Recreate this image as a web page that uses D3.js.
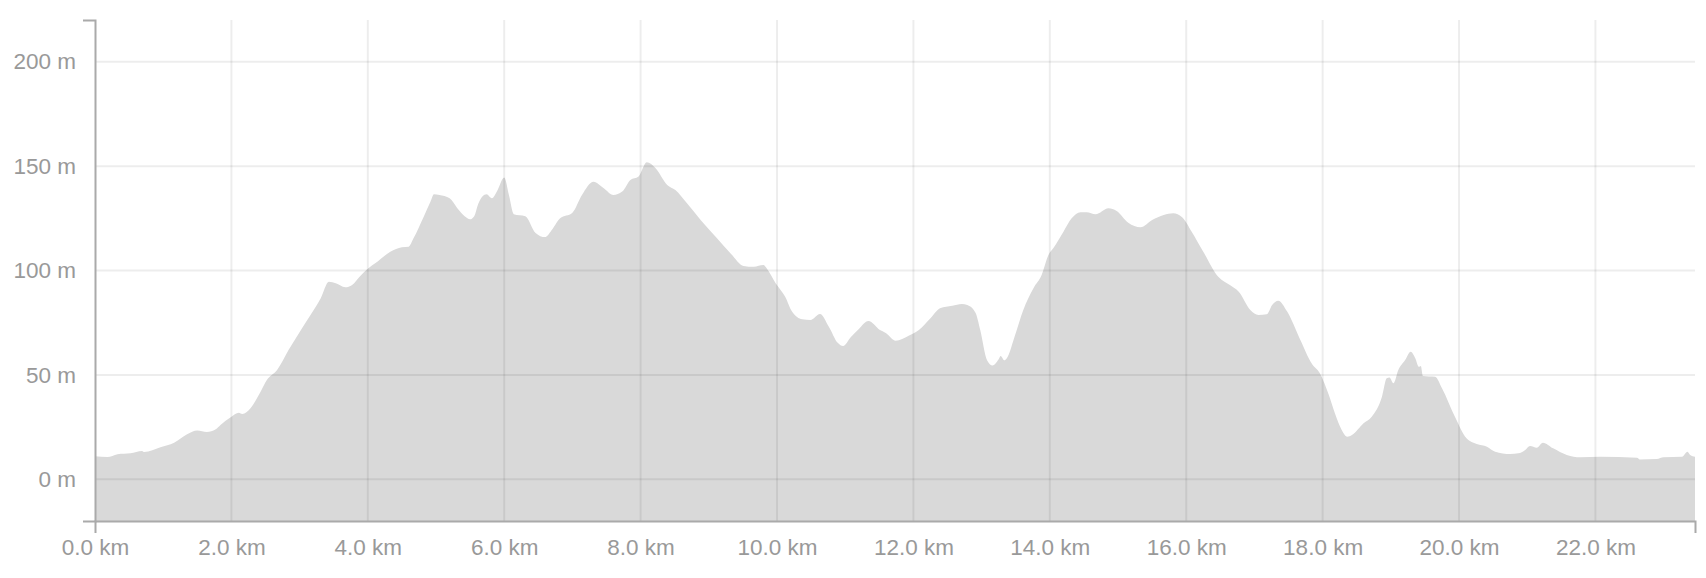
<!DOCTYPE html>
<html>
<head>
<meta charset="utf-8">
<script src="https://cdn.jsdelivr.net/npm/d3@7"></script>
<style>
  html, body { margin: 0; padding: 0; background: #fff; }
  svg { display: block; }
  text { font-family: "Liberation Sans", Arial, Helvetica, sans-serif; }
</style>
</head>
<body>
<svg id="chart" width="1706" height="578"></svg>
<script>
// Distance along the route (km)
const distances = [
  0.00, 0.18, 0.33, 0.52, 0.69, 0.72, 0.96, 1.16, 1.35, 1.50, 1.64, 1.77, 1.84, 1.99,
  2.11, 2.16, 2.28, 2.43, 2.52, 2.67, 2.84, 2.99, 3.16, 3.31, 3.43, 3.53, 3.67, 3.77,
  3.89, 3.99, 4.14, 4.33, 4.50, 4.60, 4.67, 4.82, 4.92, 4.97, 5.05, 5.20, 5.31, 5.42,
  5.50, 5.56, 5.62, 5.68, 5.74, 5.82, 5.90, 6.00, 6.07, 6.14, 6.31, 6.46, 6.60, 6.68,
  6.82, 7.00, 7.14, 7.31, 7.46, 7.60, 7.73, 7.85, 7.97, 8.09, 8.22, 8.39, 8.51, 8.68,
  8.88, 9.12, 9.32, 9.51, 9.66, 9.80, 9.85, 9.98, 10.12, 10.22, 10.37, 10.49, 10.63,
  10.76, 10.89, 10.97, 11.08, 11.20, 11.34, 11.51, 11.60, 11.74, 11.93, 12.08, 12.25,
  12.39, 12.57, 12.71, 12.79, 12.91, 12.98, 13.08, 13.16, 13.25, 13.28, 13.33, 13.37,
  13.49, 13.61, 13.76, 13.88, 13.98, 14.05, 14.20, 14.32, 14.45, 14.54, 14.67, 14.86,
  14.98, 15.15, 15.33, 15.50, 15.67, 15.81, 15.94, 16.08, 16.25, 16.47, 16.64, 16.77,
  16.94, 17.06, 17.18, 17.26, 17.35, 17.48, 17.67, 17.84, 17.96, 18.09, 18.18, 18.28,
  18.36, 18.43, 18.60, 18.72, 18.87, 18.94, 18.98, 19.04, 19.11, 19.21, 19.29, 19.36,
  19.41, 19.44, 19.47, 19.65, 19.75, 19.94, 20.11, 20.26, 20.41, 20.53, 20.75, 20.87,
  20.97, 21.04, 21.14, 21.23, 21.38, 21.58, 21.78, 22.07, 22.61, 22.65, 22.90, 23.00,
  23.27, 23.35, 23.39, 23.46
];
// Elevation (m)
const elevations = [
  11, 10.6, 12, 12.4, 13.5, 13.0, 15.3, 17.5, 21.5, 23.3, 22.6, 23.9, 26, 29.7,
  31.8, 31.2, 34, 42, 47.5, 52.3, 62, 70, 78.7, 86.7, 94.6, 93.9, 92, 93.1,
  97.4, 100.6, 104.2, 109, 111.1, 111.4, 115.4, 125.8, 133, 136.5, 136.2, 134.6, 130, 126,
  124.5, 126, 132, 135.5, 136.5, 134.6, 138.3, 144.5, 136, 127, 126, 118, 116, 118.6,
  125, 127.7, 136.2, 142.5, 139.4, 136.2, 137.8, 143.4, 145, 151.8, 149, 141, 138.6, 132.2,
  124.2, 115.4, 108.2, 102.2, 101.8, 102.6, 101, 93.9, 87.4, 80.3, 76.6, 76.3, 79.2,
  73.1, 65.4, 63.8, 68, 72, 75.8, 71.5, 70, 66.4, 68.8, 71.5, 77.1,
  81.9, 83.1, 84, 83.5, 79.8, 71.5, 57, 54.5, 57.5, 59, 57, 58,
  69, 81, 91.5, 97.8, 107.4, 110.6, 118.6, 125, 127.9, 127.9, 126.9, 129.8,
  128.5, 122.9, 120.7, 124.2, 126.6, 127.4, 125.5, 118.6, 109, 97, 93, 89.8,
  81.1, 78.7, 79, 83.5, 85.5, 80.3, 67, 55.5, 50.8, 40.5, 31.6, 23.6,
  20.4, 21.2, 26.8, 30, 39.5, 48.4, 48.8, 46, 52.3, 57.1, 61.1, 57.9,
  53.9, 54.3, 49.5, 49.1, 43.6, 30, 19.6, 16.9, 15.6, 13.2, 12.1, 12.4,
  14, 15.9, 15.1, 17.5, 14.8, 11.6, 10.5, 10.8, 10.3, 9.5, 9.7, 10.5,
  10.8, 13.2, 11.6, 10.8
];
// Axis ticks
const xTicks = [0, 2, 4, 6, 8, 10, 12, 14, 16, 18, 20, 22];
const yTicks = [0, 50, 100, 150, 200];
const xDomain = [0, 23.46];
const yDomain = [-20, 220];

(function () {
const data = distances.map((d, i) => ({ km: d, m: elevations[i] }));

const svg = d3.select("#chart");
const mLeft = 95, mRight = 1695, mTop = 20, mBottom = 521;

const x = d3.scaleLinear().domain(xDomain).range([mLeft, mRight]);
const y = d3.scaleLinear().domain(yDomain).range([mBottom, mTop]);

// Area
const area = d3.area()
  .x(d => x(d.km))
  .y0(y(yDomain[0]))
  .y1(d => y(d.m))
  .curve(d3.curveMonotoneX);

svg.append("path")
  .datum(data)
  .attr("d", area)
  .attr("fill", "#d9d9d9");

// Gridlines
const grid = svg.append("g").attr("stroke", "rgba(0,0,0,0.07)").attr("stroke-width", 2);
grid.selectAll("line.v")
  .data(xTicks.filter(t => t > 0))
  .join("line")
  .attr("class", "v")
  .attr("x1", d => x(d)).attr("x2", d => x(d))
  .attr("y1", mTop).attr("y2", mBottom);
grid.selectAll("line.h")
  .data(yTicks)
  .join("line")
  .attr("class", "h")
  .attr("x1", mLeft).attr("x2", mRight)
  .attr("y1", d => y(d)).attr("y2", d => y(d));

// Axes
const xAxis = d3.axisBottom(x)
  .tickValues(xTicks)
  .tickFormat(d => d.toFixed(1) + " km")
  .tickSizeInner(0)
  .tickSizeOuter(12)
  .tickPadding(18);
const yAxis = d3.axisLeft(y)
  .tickValues(yTicks)
  .tickFormat(d => d + " m")
  .tickSizeInner(0)
  .tickSizeOuter(12)
  .tickPadding(19);

function styleAxis(g) {
  g.select(".domain").attr("stroke", "#aaa").attr("stroke-width", 2);
  g.selectAll(".tick line").remove();
  g.selectAll(".tick text")
    .attr("fill", "#999")
    .style("font-size", "22.5px")
    .style("font-family", "'Liberation Sans', Arial, Helvetica, sans-serif");
}

svg.append("g")
  .attr("transform", `translate(0,${mBottom})`)
  .call(xAxis)
  .call(styleAxis);

svg.append("g")
  .attr("transform", `translate(${mLeft},0)`)
  .call(yAxis)
  .call(styleAxis);
})();
</script>
</body>
</html>
